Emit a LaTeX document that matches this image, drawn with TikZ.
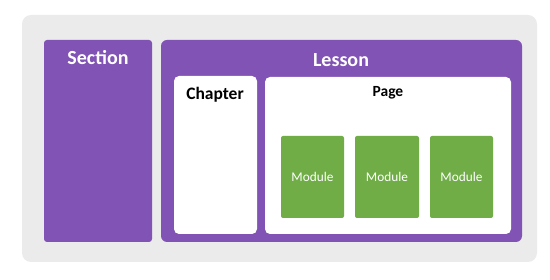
\documentclass[tikz,border=0pt]{standalone}
\usepackage{fontspec}
\setmainfont{Carlito}
\definecolor{bggray}{HTML}{EBEBEB}
\definecolor{purp}{HTML}{8053B4}
\definecolor{grn}{HTML}{70AD47}
\begin{document}
\begin{tikzpicture}[x=1pt,y=-1pt,
  box/.style={rounded corners=#1,inner sep=0pt},
  title/.style={font=\bfseries\fontsize{20}{20}\selectfont,text=white},
  sub/.style={font=\bfseries\fontsize{17.5}{17.5}\selectfont,text=black},
  modtext/.style={font=\fontsize{13.3}{13.3}\selectfont,text=white}]
\useasboundingbox (0,0) rectangle (550,280);
\fill[bggray,box=9pt] (22,15) rectangle (537,262);
\fill[purp,box=3pt] (44,40) rectangle (152,242);
\fill[purp,box=6pt] (161,40) rectangle (522,242);
\fill[white,box=5pt] (174,76) rectangle (257,234);
\fill[white,box=5pt] (265,77) rectangle (511,234);
\fill[grn,box=2pt] (281,136) rectangle (344,218);
\fill[grn,box=2pt] (355,136) rectangle (419,218);
\fill[grn,box=2pt] (430,136) rectangle (493,218);
\node[title] (section) at (98,58) {Section};
\node[title] (lesson) at (341,60) {Lesson};
\node[sub] (chapter) at (215,95) {Chapter};
\node[sub,font=\bfseries\fontsize{15.5}{15.5}\selectfont] (page) at (388,93) {Page};
\node[modtext] (m1) at (312.5,177) {Module};
\node[modtext] (m2) at (387,177) {Module};
\node[modtext] (m3) at (461.5,177) {Module};
\end{tikzpicture}
\end{document}
